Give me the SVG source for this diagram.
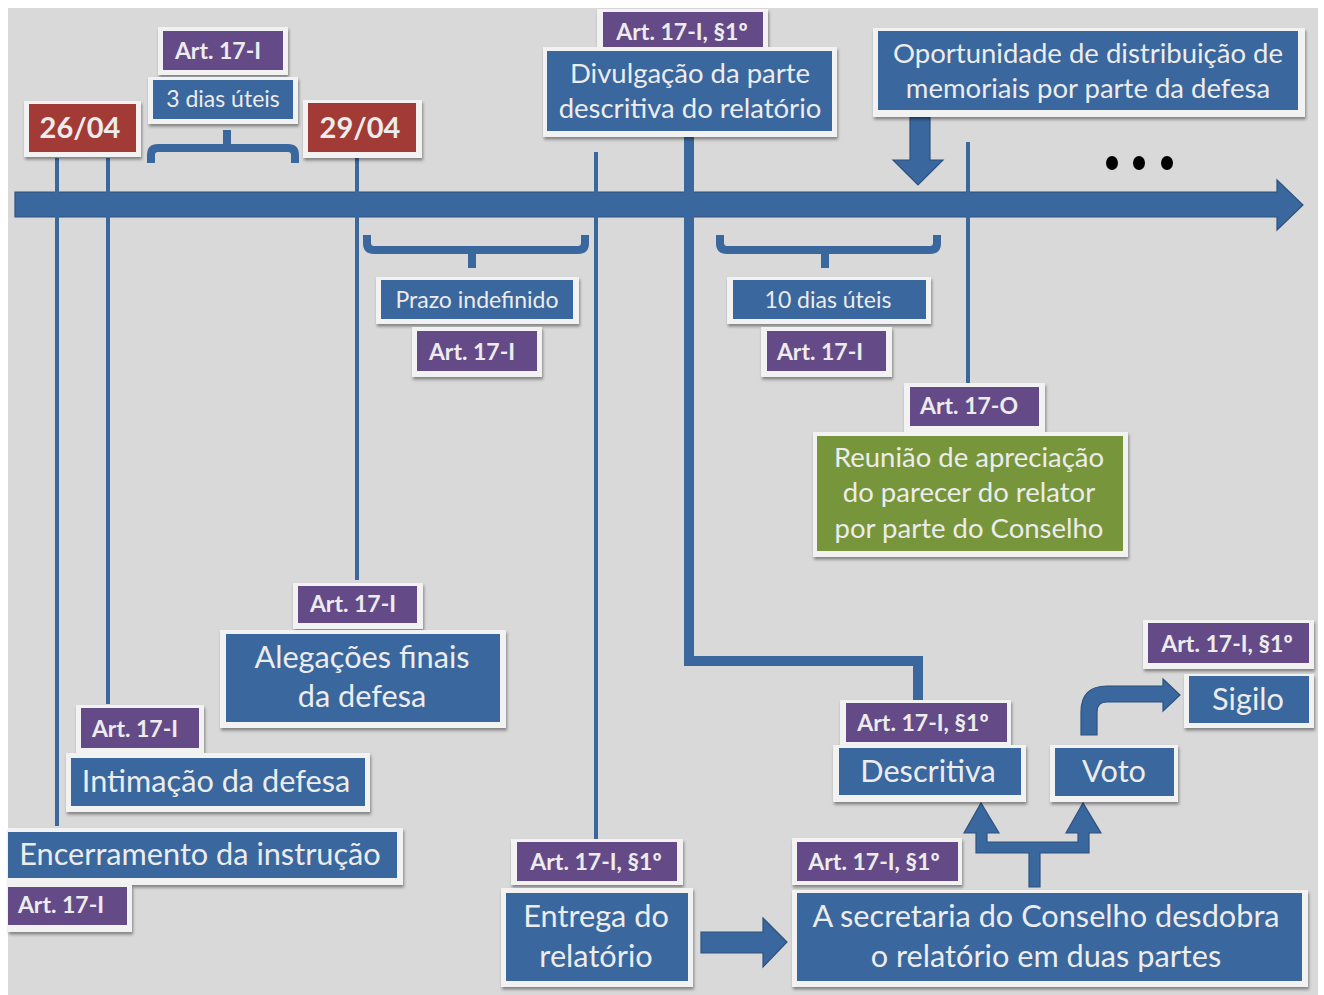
<svg xmlns="http://www.w3.org/2000/svg" width="1324" height="995" viewBox="0 0 1324 995">
<defs>
<filter id="sh" x="-10%" y="-20%" width="120%" height="150%">
<feDropShadow dx="1" dy="2.5" stdDeviation="1.5" flood-color="#000" flood-opacity="0.4"/>
</filter>
<clipPath id="bg"><rect x="8" y="8" width="1310" height="987"/></clipPath>
</defs>
<style>
.fr{fill:#f2f2f2;filter:url(#sh)}
.bl{fill:#3a679d}
.pu{fill:#654a88}
.rd{fill:#a23b36}
.gr{fill:#77963b}
.t{font-family:Lato,"Open Sans","Liberation Sans",sans-serif;fill:#ececec;text-anchor:middle}
.b{font-weight:bold}
.s22{font-size:23px}
.s23{font-size:23px}
.s26{font-size:27.5px}
.s29{font-size:30.7px}
.ln{stroke:#3a679d;stroke-width:4;fill:none}
.br{stroke:#3a679d;stroke-width:8;fill:none;stroke-linejoin:round}
.ar{fill:#3a679d;stroke:#2d527f;stroke-width:1.2}
</style>
<rect x="0" y="0" width="1324" height="995" fill="#ffffff"/>
<rect x="8" y="8" width="1310" height="987" fill="#d9d9d9"/>
<g id="connectors" clip-path="url(#bg)">
<polygon class="ar" points="15,192 1277,192 1277,180 1303,205 1277,230 1277,217 15,217"/>
<line class="ln" x1="57" y1="158" x2="57" y2="826"/>
<line class="ln" x1="108" y1="158" x2="108" y2="704"/>
<line class="ln" x1="357" y1="158" x2="357" y2="580"/>
<line class="ln" x1="596" y1="152" x2="596" y2="840"/>
<line class="ln" x1="968" y1="142" x2="968" y2="384"/>
<path d="M689 137 V661 H918 V700" stroke="#3a679d" stroke-width="10" fill="none"/>
<path class="br" d="M151 163 V155 Q151 148 158 148 H288 Q295 148 295 155 V163 M227 148 V130"/>
<path class="br" d="M367 235 V243 Q367 250 374 250 H578 Q585 250 585 243 V235 M472 250 V268"/>
<path class="br" d="M720 235 V243 Q720 250 727 250 H930 Q937 250 937 243 V235 M825 250 V268"/>
<polygon class="ar" points="910,117 930,117 930,160 943,160 918,185 893,160 910,160"/>
<ellipse cx="1112" cy="163" rx="6" ry="7" fill="#000"/>
<ellipse cx="1139" cy="163" rx="6" ry="7" fill="#000"/>
<ellipse cx="1167" cy="163" rx="6" ry="7" fill="#000"/>
<polygon class="ar" points="1029,887 1029,853 976,853 976,833 964,833 981,803 999,833 987,833 987,842 1078,842 1078,833 1066,833 1083,803 1101,833 1089,833 1089,853 1040,853 1040,887"/>
<polygon class="ar" points="701,932 763,932 763,918 787,942 763,967 763,953 701,953"/>
<path class="ar" d="M1081 735 V712 Q1081 686 1107 686 H1163 V679 L1180 695 L1163 711 V702 H1107 Q1097 702 1097 712 V735 Z"/>
</g>
<g id="n2604"><rect class="fr" x="24" y="101" width="117" height="56"/><rect class="rd" x="29" y="104" width="107" height="48"/><text class="t b" x="80" y="138" font-size="29">26/04</text></g>
<g id="nArtTop"><rect class="fr" x="158" y="27" width="130" height="48"/><rect class="pu" x="163" y="31" width="120" height="39"/><text class="t b s23" x="218" y="59">Art. 17-I</text></g>
<g id="n3dias"><rect class="fr" x="148" y="77" width="150" height="47"/><rect class="bl" x="153" y="80" width="140" height="39"/><text class="t s22" x="223" y="107">3 dias úteis</text></g>
<g id="n2904"><rect class="fr" x="303" y="100" width="119" height="58"/><rect class="rd" x="308" y="103" width="108" height="49"/><text class="t b" x="360" y="138" font-size="29">29/04</text></g>
<g id="nArtDiv"><rect class="fr" x="597" y="9" width="171" height="47"/><rect class="pu" x="603" y="12" width="160" height="40"/><text class="t b s23" x="682" y="40">Art. 17-I, §1º</text></g>
<g id="nDiv"><rect class="fr" x="543" y="47" width="294" height="90"/><rect class="bl" x="547" y="51" width="285" height="80"/><text class="t s26" x="690" y="83">Divulgação da parte</text><text class="t s26" x="690" y="118">descritiva do relatório</text></g>
<g id="nOport"><rect class="fr" x="873" y="28" width="432" height="89"/><rect class="bl" x="878" y="31" width="420" height="79"/><text class="t s26" x="1088" y="63">Oportunidade de distribuição de</text><text class="t s26" x="1088" y="98">memoriais por parte da defesa</text></g>
<g id="nPrazo"><rect class="fr" x="376" y="277" width="203" height="47"/><rect class="bl" x="381" y="280" width="192" height="39"/><text class="t s22" x="477" y="308">Prazo indefinido</text></g>
<g id="nArtPrazo"><rect class="fr" x="412" y="327" width="130" height="50"/><rect class="pu" x="417" y="331" width="120" height="40"/><text class="t b s23" x="472" y="360">Art. 17-I</text></g>
<g id="n10dias"><rect class="fr" x="727" y="277" width="204" height="47"/><rect class="bl" x="733" y="280" width="193" height="39"/><text class="t s22" x="828" y="308">10 dias úteis</text></g>
<g id="nArt10"><rect class="fr" x="761" y="327" width="131" height="50"/><rect class="pu" x="767" y="331" width="119" height="40"/><text class="t b s23" x="820" y="360">Art. 17-I</text></g>
<g id="nArt17O"><rect class="fr" x="904" y="383" width="141" height="49"/><rect class="pu" x="910" y="387" width="129" height="39"/><text class="t b s23" x="969" y="414">Art. 17-O</text></g>
<g id="nReuniao"><rect class="fr" x="813" y="432" width="315" height="125"/><rect class="gr" x="817" y="436" width="306" height="115"/><text class="t s26" x="969" y="467">Reunião de apreciação</text><text class="t s26" x="969" y="502">do parecer do relator</text><text class="t s26" x="969" y="538">por parte do Conselho</text></g>
<g id="nArtAleg"><rect class="fr" x="293" y="583" width="130" height="46"/><rect class="pu" x="298" y="586" width="119" height="37"/><text class="t b s23" x="353" y="612">Art. 17-I</text></g>
<g id="nAleg"><rect class="fr" x="220" y="630" width="286" height="98"/><rect class="bl" x="226" y="634" width="274" height="88"/><text class="t s29" x="362" y="668">Alegações finais</text><text class="t s29" x="362" y="707">da defesa</text></g>
<g id="nArtIntim"><rect class="fr" x="76" y="705" width="128" height="48"/><rect class="pu" x="81" y="708" width="118" height="40"/><text class="t b s23" x="135" y="737">Art. 17-I</text></g>
<g id="nIntim"><rect class="fr" x="66" y="753" width="304" height="59"/><rect class="bl" x="71" y="758" width="294" height="48"/><text class="t s29" x="216" y="792">Intimação da defesa</text></g>
<g id="nEncerr"><rect class="fr" x="8" y="828" width="395" height="57"/><rect class="bl" x="8" y="832" width="389" height="46"/><text class="t s29" x="200" y="865">Encerramento da instrução</text></g>
<g id="nArtEnc"><rect class="fr" x="8" y="885" width="124" height="47"/><rect class="pu" x="8" y="887" width="119" height="38"/><text class="t b s23" x="61" y="913">Art. 17-I</text></g>
<g id="nArtEntrega"><rect class="fr" x="511" y="839" width="172" height="46"/><rect class="pu" x="517" y="842" width="160" height="39"/><text class="t b s23" x="596" y="870">Art. 17-I, §1º</text></g>
<g id="nEntrega"><rect class="fr" x="501" y="888" width="192" height="99"/><rect class="bl" x="506" y="893" width="182" height="88"/><text class="t s29" x="596" y="927">Entrega do</text><text class="t s29" x="596" y="967">relatório</text></g>
<g id="nArtSecr"><rect class="fr" x="792" y="838" width="170" height="47"/><rect class="pu" x="797" y="842" width="161" height="39"/><text class="t b s23" x="874" y="870">Art. 17-I, §1º</text></g>
<g id="nSecr"><rect class="fr" x="792" y="890" width="516" height="97"/><rect class="bl" x="797" y="893" width="505" height="88"/><text class="t s29" x="1046" y="927">A secretaria do Conselho desdobra</text><text class="t s29" x="1046" y="967">o relatório em duas partes</text></g>
<g id="nArtDesc"><rect class="fr" x="840" y="700" width="171" height="45"/><rect class="pu" x="846" y="703" width="161" height="39"/><text class="t b s23" x="923" y="731">Art. 17-I, §1º</text></g>
<g id="nDesc"><rect class="fr" x="833" y="745" width="193" height="57"/><rect class="bl" x="839" y="748" width="182" height="47"/><text class="t s29" x="928" y="782">Descritiva</text></g>
<g id="nVoto"><rect class="fr" x="1050" y="745" width="128" height="57"/><rect class="bl" x="1055" y="748" width="119" height="48"/><text class="t s29" x="1114" y="782">Voto</text></g>
<g id="nArtSig"><rect class="fr" x="1143" y="620" width="171" height="49"/><rect class="pu" x="1148" y="623" width="161" height="40"/><text class="t b s23" x="1227" y="652">Art. 17-I, §1º</text></g>
<g id="nSigilo"><rect class="fr" x="1184" y="674" width="130" height="54"/><rect class="bl" x="1189" y="676" width="120" height="47"/><text class="t s29" x="1248" y="710">Sigilo</text></g>
</svg>
